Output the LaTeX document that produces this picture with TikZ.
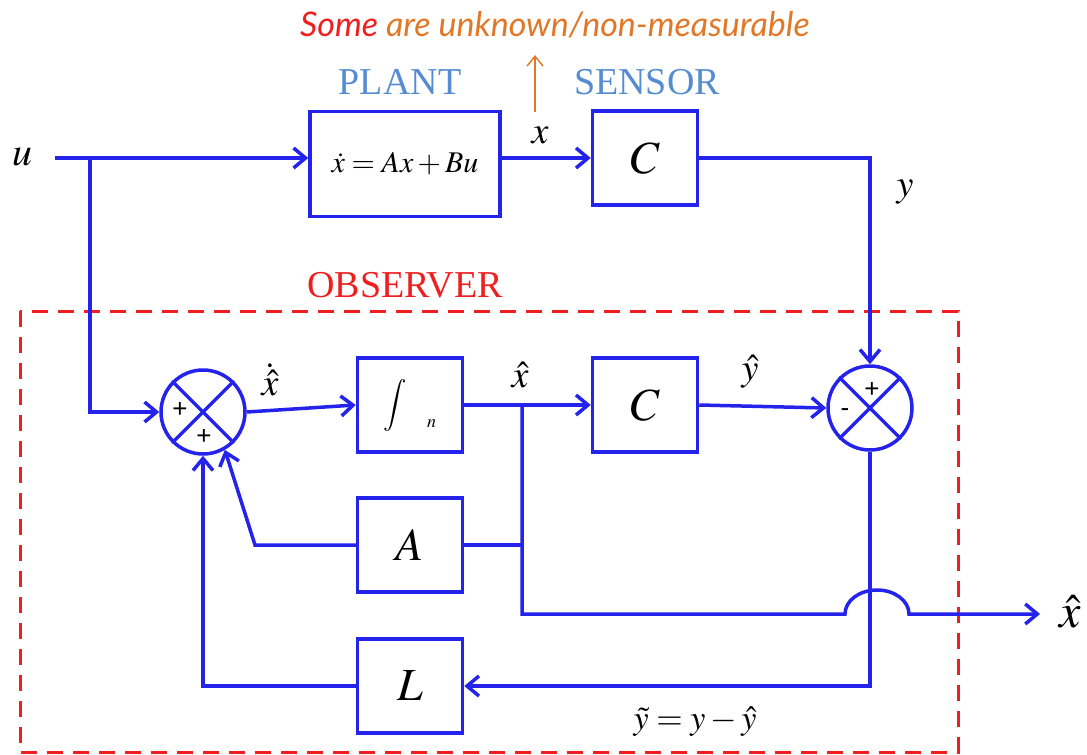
\documentclass[tikz,border=0pt]{standalone}
\usepackage{mathptmx}
\usepackage[no-math]{fontspec}
\setmainfont{Liberation Serif}
\setsansfont{Liberation Sans}
\newfontfamily\notefont{Lato}
\usetikzlibrary{arrows.meta}

\definecolor{wireblue}{RGB}{35,35,235}
\definecolor{lblblue}{RGB}{85,140,210}
\definecolor{obsred}{RGB}{240,30,30}
\definecolor{noteorange}{RGB}{225,120,40}
\newcommand{\setfs}[1]{\fontsize{#1}{#1}\selectfont}

\tikzset{
  wire/.style={wireblue, line width=1.75pt},
  arr/.style={wire, -{Straight Barb[length=6pt,width=10pt]}},
  blk/.style={draw=wireblue, line width=1.75pt, minimum width=52.5pt,
    minimum height=47pt, inner sep=0pt},
  sumc/.style={draw=wireblue, line width=1.75pt, circle, minimum size=42pt,
    inner sep=0pt},
  sgn/.style={font={\sffamily\setfs{13}}, inner sep=0pt},
  lbl/.style={inner sep=0pt},
}

\begin{document}
\begin{tikzpicture}[x=0.5pt, y=-0.5pt]
  \useasboundingbox (0,0) rectangle (1087,755);

  % titles
  \node[lbl, font={\notefont\itshape\setfs{17}}] (note) at (555,25)
    {\textcolor{obsred}{Some} \textcolor{noteorange}{are unknown/non-measurable}};
  \node[lbl, lblblue, font=\setfs{19}] (plantlbl) at (400,82) {PLANT};
  \node[lbl, lblblue, font=\setfs{19}] (senslbl) at (647,82) {SENSOR};
  \node[lbl, obsred, font=\setfs{19}] (obslbl) at (405,285) {OBSERVER};

  % observer frame
  \draw[obsred, line width=1.5pt, dash pattern=on 8pt off 5pt]
    (20,311) rectangle (958,752);

  % blocks
  \node[blk, minimum width=95pt, minimum height=52.5pt] (plant) at (405,164)
    {\setfs{15}$\dot{x}=Ax+Bu$};
  \node[blk] (sensor) at (645,158) {\setfs{23}$C$};
  \node[blk] (intg) at (410,405)
    {\setfs{13}$\displaystyle\int$\hspace{10pt}\raisebox{-8pt}{\setfs{9}$n$}};
  \node[blk] (cobs) at (645,405) {\setfs{23}$C$};
  \node[blk] (ablk) at (410,545) {\setfs{23}$A$};
  \node[blk] (lblk) at (410,686) {\setfs{23}$L$};

  % summing junctions
  \node[sumc] (sum1) at (203,412) {};
  \draw[wire] (sum1.45) -- (sum1.225) (sum1.135) -- (sum1.315);
  \node[sgn] at (180,410) {+};
  \node[sgn] at (204,437) {+};
  \node[sumc] (sum2) at (870,408) {};
  \draw[wire] (sum2.45) -- (sum2.225) (sum2.135) -- (sum2.315);
  \node[sgn] at (872,390) {+};
  \node[sgn] at (845,413) {-};

  % helper points
  \coordinate (uin) at (55,158);
  \coordinate (ub) at (90,158);
  \coordinate (br) at (522,405);
  \coordinate (hopl) at (845,614);
  \coordinate (xout) at (1040,614);
  \coordinate (ak) at (255,545);
  \coordinate (nbot) at (535,112);
  \coordinate (ntop) at (535,55);

  % plant path
  \draw[arr] (uin) -- (uin -| plant.west);
  \draw[arr] (ub) |- (sum1.west);
  \draw[arr] (plant.east |- sensor.west) -- (sensor.west);
  \draw[arr] (sensor.east) -| (sum2.north);
  \draw[noteorange, line width=0.7pt, -{Straight Barb[length=5pt,width=8pt]}]
    (nbot) -- (ntop);

  % observer path
  \draw[arr] (sum1.east) -- (intg.west);
  \draw[arr] (intg.east) -- (cobs.west);
  \draw[arr] (cobs.east) -- (sum2.west);
  \draw[arr] (br) |- (hopl)
    arc[start angle=180, end angle=360, x radius=32, y radius=24] -- (xout);
  \draw[wire] (ablk.east) -- (ablk.east -| br);
  \draw[arr] (ablk.west) -- (ak) -- (sum1.-60);
  \draw[arr] (lblk.west) -| (sum1.south);
  \draw[arr] (sum2.south) |- (lblk.east);

  % signal labels
  \node[lbl, font=\setfs{20}] at (22,157) {$u$};
  \node[lbl, font=\setfs{19}] at (540,135) {$x$};
  \node[lbl, font=\setfs{19}] at (905,192) {$y$};
  \node[lbl, font=\setfs{19}] at (270,380) {$\dot{\hat{x}}$};
  \node[lbl, font=\setfs{19}] at (520,375) {$\hat{x}$};
  \node[lbl, font=\setfs{19}] at (750,372) {$\hat{y}$};
  \node[lbl, font=\setfs{17}] at (695,722) {$\tilde{y}=y-\hat{y}$};
  \node[lbl, font=\setfs{24}] at (1070,612) {$\hat{x}$};

\end{tikzpicture}
\end{document}
